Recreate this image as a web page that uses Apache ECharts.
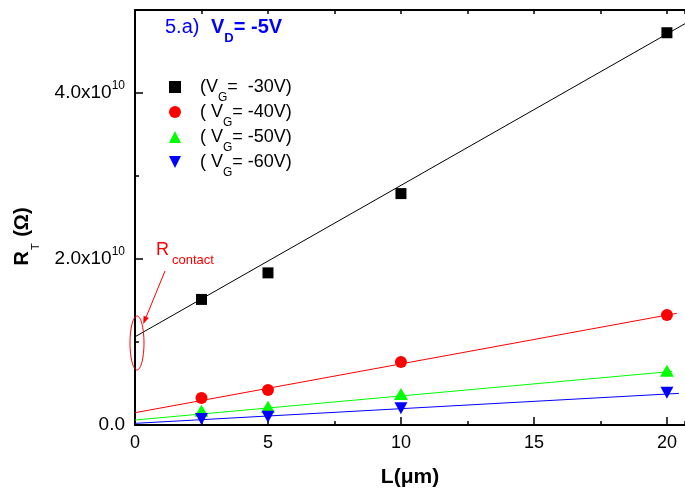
<!DOCTYPE html>
<html>
<head>
<meta charset="utf-8">
<script src="https://cdn.jsdelivr.net/npm/echarts@6/dist/echarts.min.js"></script>
<style>
html,body{margin:0;padding:0;background:#fff;}
#chart{width:685px;height:499px;}
</style>
</head>
<body>
<div id="chart"></div>
<script>
// ---- data ----
const lengths = [2.5, 5, 10, 20];               // L (µm)
const rVg30 = [1.513e10, 1.833e10, 2.788e10, 4.726e10];
const rVg40 = [0.325e10, 0.421e10, 0.758e10, 1.324e10];
const rVg50 = [0.172e10, 0.220e10, 0.373e10, 0.653e10];
const rVg60 = [0.072e10, 0.100e10, 0.201e10, 0.389e10];
// linear fits (intercept = R_contact, slope per µm), and fit range end
const fitIntercept = [1.063e10, 0.148e10, 0.060e10, 0.020e10];
const fitSlope = [0.1824e10, 0.0588e10, 0.0290e10, 0.01765e10];
const fitEnd = [20.7, 20.37, 20.2, 20.45];
const seriesNames = ['Vg30', 'Vg40', 'Vg50', 'Vg60'];
const legendLabels = ['(V{s|G}=  -30V)', '( V{s|G}= -40V)', '( V{s|G}= -50V)', '( V{s|G}= -60V)'];
const xTicks = [0, 5, 10, 15, 20];
const yTickLabels = ['0.0', '2.0', '4.0'];

const FONT = '"Liberation Sans", Arial, Helvetica, sans-serif';
const colors = ['#000000', '#ff0000', '#00ff00', '#0000ff'];
const symbols = ['rect', 'circle', 'triangle', 'triangle'];
const symbolSizes = [11, 12, [14, 12], [13, 12]];
const symbolRot = [0, 0, 0, 180];
const legendIcons = ['rect', 'circle', 'triangle', 'path://M0,0L2,0L1,2Z'];
const allR = [rVg30, rVg40, rVg50, rVg60];

const series = [];
allR.forEach((vals, i) => {
  series.push({
    type: 'line', name: seriesNames[i] + '_fit', silent: true,
    showSymbol: false, symbol: 'none',
    xAxisIndex: 0, yAxisIndex: 0,
    lineStyle: { color: colors[i], width: 1 },
    data: [[0, fitIntercept[i]], [fitEnd[i], fitIntercept[i] + fitSlope[i] * fitEnd[i]]],
    z: 2
  });
});
allR.forEach((vals, i) => {
  series.push({
    type: 'scatter', name: seriesNames[i],
    xAxisIndex: 0, yAxisIndex: 0,
    symbol: symbols[i], symbolSize: symbolSizes[i], symbolRotate: symbolRot[i],
    itemStyle: { color: colors[i], opacity: 1 },
    data: lengths.map((x, k) => [x, vals[k]]),
    z: 3
  });
});

const legends = seriesNames.map((n, i) => ({
  orient: 'vertical', left: 169, top: 78 + 25 * i, padding: 0,
  itemWidth: 12, itemHeight: 12, selectedMode: false,
  data: [{ name: n, icon: legendIcons[i] }],
  formatter: name => legendLabels[seriesNames.indexOf(name)],
  textStyle: {
    fontFamily: FONT, fontSize: 18, color: '#000', padding: [0, 0, 0, 14],
    rich: { s: { fontFamily: FONT, fontSize: 12, color: '#000', padding: [22, 0, 0, 0] } }
  }
}));

const XMAX = 20.68, YMAX = 5e10;
const chart = echarts.init(document.getElementById('chart'), null, { renderer: 'canvas' });
chart.setOption({
  animation: false,
  backgroundColor: '#ffffff',
  grid: { left: 135, right: 0, top: 10, bottom: 74, containLabel: false },
  xAxis: [
    {
      type: 'value', position: 'bottom', min: 0, max: XMAX, interval: 5,
      name: 'L(μm)', nameLocation: 'middle', nameGap: 42,
      nameTextStyle: { fontFamily: FONT, fontSize: 21, fontWeight: 'bold', color: '#000' },
      axisLine: { show: true, onZero: false, lineStyle: { color: '#000', width: 2 } },
      axisTick: { show: true, inside: true, length: 8, lineStyle: { color: '#000', width: 1.5 } },
      axisLabel: {
        show: true, margin: 9, showMaxLabel: false, color: '#000', fontFamily: FONT, fontSize: 18,
        formatter: v => (xTicks.indexOf(v) >= 0 ? String(v) : '')
      },
      splitLine: { show: false }
    },
    {
      type: 'value', position: 'bottom', min: 0, max: XMAX, interval: 2.5,
      axisLine: { show: false, onZero: false },
      axisTick: { show: true, inside: true, length: 4, lineStyle: { color: '#000', width: 1.5 } },
      axisLabel: { show: false }, splitLine: { show: false }
    },
    {
      type: 'value', position: 'top', min: 0, max: XMAX, interval: 2.5,
      axisLine: { show: true, onZero: false, lineStyle: { color: '#000', width: 2 } },
      axisTick: { show: true, inside: true, length: 4, lineStyle: { color: '#000', width: 1.5 } },
      axisLabel: { show: false }, splitLine: { show: false }
    }
  ],
  yAxis: [
    {
      type: 'value', position: 'left', min: 0, max: YMAX, interval: 2e10,
      name: 'R{t|T} (Ω)', nameLocation: 'middle', nameGap: 94, nameRotate: 90,
      nameTextStyle: {
        fontFamily: FONT, fontSize: 20, fontWeight: 'bold', color: '#000', padding: [0, 38, 0, 0],
        rich: { t: { fontFamily: FONT, fontSize: 11, fontWeight: 'normal', color: '#000', padding: [26, 1, 0, 1] } }
      },
      axisLine: { show: true, onZero: false, lineStyle: { color: '#000', width: 2 } },
      axisTick: { show: true, inside: true, length: 8, lineStyle: { color: '#000', width: 1.5 } },
      axisLabel: {
        show: true, margin: 10, showMaxLabel: false, color: '#000', fontFamily: FONT, fontSize: 19,
        formatter: v => {
          const idx = Math.round(v / 2e10);
          if (Math.abs(v - idx * 2e10) > 1 || idx >= yTickLabels.length) return '';
          return idx === 0 ? yTickLabels[0] : yTickLabels[idx] + 'x10{p|10}';
        },
        rich: { p: { fontFamily: FONT, fontSize: 12, color: '#000', padding: [0, 0, 14, 0] } }
      },
      splitLine: { show: false }
    },
    {
      type: 'value', position: 'left', min: 0, max: YMAX, interval: 1e10,
      axisLine: { show: false, onZero: false },
      axisTick: { show: true, inside: true, length: 4, lineStyle: { color: '#000', width: 1.5 } },
      axisLabel: { show: false }, splitLine: { show: false }
    }
  ],
  legend: legends,
  graphic: [
    {
      type: 'text', x: 165, y: 27.8, z: 10,
      style: {
        text: '{n|5.a) }{b|V}{d|D}{b|= -5V}',
        textVerticalAlign: 'middle', verticalAlign: 'middle', textAlign: 'left', align: 'left',
        fill: '#0000ff',
        rich: {
          n: { fontFamily: FONT, fontSize: 20, fontWeight: 'normal', fill: '#0000ff', padding: [0, 6, 0, 0] },
          b: { fontFamily: FONT, fontSize: 20, fontWeight: 'bold', fill: '#0000ff' },
          d: { fontFamily: FONT, fontSize: 13, fontWeight: 'bold', fill: '#0000ff', padding: [22, 0, 0, 0] }
        }
      }
    },
    {
      type: 'text', x: 156, y: 250, z: 10,
      style: { text: 'R', font: '18px ' + FONT, fill: '#ff0000',
        textAlign: 'left', align: 'left', textVerticalAlign: 'middle', verticalAlign: 'middle' }
    },
    {
      type: 'text', x: 172, y: 260.3, z: 10,
      style: { text: 'contact', font: '13px ' + FONT, fill: '#ff0000',
        textAlign: 'left', align: 'left', textVerticalAlign: 'middle', verticalAlign: 'middle' }
    },
    {
      type: 'ellipse', z: 10,
      shape: { cx: 137, cy: 343, rx: 7, ry: 27 },
      style: { fill: 'none', stroke: '#ff0000', lineWidth: 1 }
    },
    {
      type: 'line', z: 10,
      shape: { x1: 165, y1: 271, x2: 146.15, y2: 317 },
      style: { stroke: '#ff0000', lineWidth: 1 }
    },
    {
      type: 'polygon', z: 10,
      shape: { points: [[143.5, 323.5], [148.45, 317.97], [143.85, 316.07]] },
      style: { fill: '#ff0000', stroke: '#ff0000', lineWidth: 0.5 }
    }
  ],
  series: series
});
</script>
</body>
</html>
